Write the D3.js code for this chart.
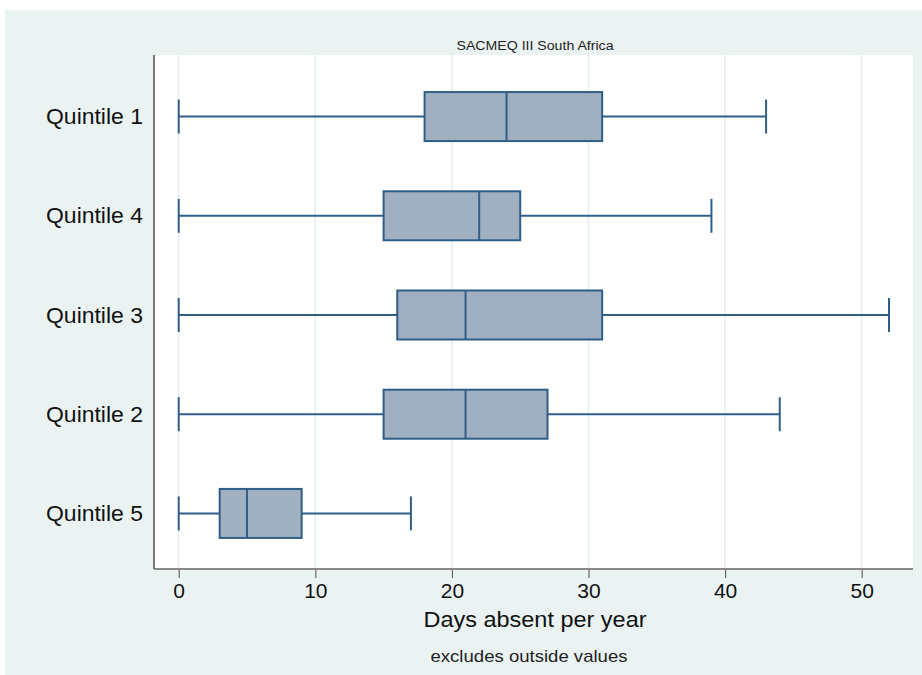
<!DOCTYPE html>
<html>
<head>
<meta charset="utf-8">
<script src="https://cdn.jsdelivr.net/npm/d3@7"></script>
<style>
  html, body { margin: 0; padding: 0; background: #ffffff; }
  svg { display: block; }
  text { font-family: "Liberation Sans", Arial, Helvetica, sans-serif; }
</style>
</head>
<body>
<script>
// ---- Data ----
const categories = ["Quintile 1", "Quintile 4", "Quintile 3", "Quintile 2", "Quintile 5"];
const whiskerLow  = [0, 0, 0, 0, 0];
const q1Values    = [18, 15, 16, 15, 3];
const medians     = [24, 22, 21, 21, 5];
const q3Values    = [31, 25, 31, 27, 9];
const whiskerHigh = [43, 39, 52, 44, 17];
const xTicks = [0, 10, 20, 30, 40, 50];
const title = "SACMEQ III South Africa";
const xTitle = "Days absent per year";
const note = "excludes outside values";

const data = categories.map((c, i) => ({
  cat: c, lo: whiskerLow[i], q1: q1Values[i], med: medians[i], q3: q3Values[i], hi: whiskerHigh[i]
}));

const W = 922, H = 675;
const plot = { left: 154, right: 913, top: 55, bottom: 569 };

const svg = d3.select("body").append("svg").attr("width", W).attr("height", H);

// outer background
svg.append("rect").attr("x", 5).attr("y", 10).attr("width", W - 5).attr("height", H - 10)
  .attr("fill", "#eaf2f2");
// plot region
svg.append("rect").attr("x", plot.left).attr("y", plot.top)
  .attr("width", plot.right - plot.left).attr("height", plot.bottom - plot.top)
  .attr("fill", "#ffffff");

const x = d3.scaleLinear().domain([0, 50]).range([178.7, 861.7]);
const y = d3.scalePoint().domain(categories).range([62, 568]).padding(0.55);

// grid lines
svg.append("g").selectAll("line").data(xTicks).join("line")
  .attr("x1", d => x(d)).attr("x2", d => x(d))
  .attr("y1", plot.top).attr("y2", plot.bottom)
  .attr("stroke", "#e4edf1").attr("stroke-width", 1.5);

// boxes
const stroke = "#2f5f88", fill = "#a0b0c0";
const boxH = 49, capH = 34;
const g = svg.append("g");
const rows = g.selectAll("g.row").data(data).join("g").attr("class", "row");

rows.append("line")
  .attr("x1", d => x(d.lo)).attr("x2", d => x(d.q1))
  .attr("y1", d => y(d.cat)).attr("y2", d => y(d.cat))
  .attr("stroke", stroke).attr("stroke-width", 2);
rows.append("line")
  .attr("x1", d => x(d.q3)).attr("x2", d => x(d.hi))
  .attr("y1", d => y(d.cat)).attr("y2", d => y(d.cat))
  .attr("stroke", stroke).attr("stroke-width", 2);
rows.append("line")
  .attr("x1", d => x(d.lo)).attr("x2", d => x(d.lo))
  .attr("y1", d => y(d.cat) - capH / 2).attr("y2", d => y(d.cat) + capH / 2)
  .attr("stroke", stroke).attr("stroke-width", 2);
rows.append("line")
  .attr("x1", d => x(d.hi)).attr("x2", d => x(d.hi))
  .attr("y1", d => y(d.cat) - capH / 2).attr("y2", d => y(d.cat) + capH / 2)
  .attr("stroke", stroke).attr("stroke-width", 2);
rows.append("rect")
  .attr("x", d => x(d.q1)).attr("width", d => x(d.q3) - x(d.q1))
  .attr("y", d => y(d.cat) - boxH / 2).attr("height", boxH)
  .attr("fill", fill).attr("stroke", stroke).attr("stroke-width", 2);
rows.append("line")
  .attr("x1", d => x(d.med)).attr("x2", d => x(d.med))
  .attr("y1", d => y(d.cat) - boxH / 2).attr("y2", d => y(d.cat) + boxH / 2)
  .attr("stroke", stroke).attr("stroke-width", 2);

// x axis
const xAxis = svg.append("g").attr("transform", `translate(0,${plot.bottom})`)
  .call(d3.axisBottom(x).tickValues(xTicks).tickSize(9).tickPadding(5).tickFormat(d3.format("d")));
xAxis.select(".domain").remove();
xAxis.selectAll(".tick line").attr("stroke", "#666").attr("stroke-width", 1.2);
xAxis.selectAll(".tick text").attr("font-size", 21).attr("fill", "#111")
  .attr("font-family", "'Liberation Sans', Arial, sans-serif");
svg.append("line").attr("x1", plot.left).attr("x2", plot.right)
  .attr("y1", plot.bottom).attr("y2", plot.bottom)
  .attr("stroke", "#888").attr("stroke-width", 2);

// y axis
const yAxis = svg.append("g").attr("transform", `translate(${plot.left},0)`)
  .call(d3.axisLeft(y).tickSize(0).tickPadding(11));
yAxis.select(".domain").remove();
yAxis.selectAll(".tick text").attr("font-size", 22).attr("fill", "#111")
  .attr("textLength", 97).attr("lengthAdjust", "spacingAndGlyphs")
  .attr("font-family", "'Liberation Sans', Arial, sans-serif");
svg.append("line").attr("x1", plot.left).attr("x2", plot.left)
  .attr("y1", plot.top).attr("y2", plot.bottom)
  .attr("stroke", "#777").attr("stroke-width", 2);

// titles
const cx = 535;
svg.append("text").attr("x", cx).attr("y", 50).attr("text-anchor", "middle")
  .attr("font-size", 12.5).attr("fill", "#222")
  .attr("textLength", 157).attr("lengthAdjust", "spacingAndGlyphs").text(title);
svg.append("text").attr("x", cx).attr("y", 627).attr("text-anchor", "middle")
  .attr("font-size", 22).attr("fill", "#111")
  .attr("textLength", 223).attr("lengthAdjust", "spacingAndGlyphs").text(xTitle);
svg.append("text").attr("x", 529).attr("y", 662).attr("text-anchor", "middle")
  .attr("font-size", 17).attr("fill", "#222")
  .attr("textLength", 197).attr("lengthAdjust", "spacingAndGlyphs").text(note);
</script>
</body>
</html>
